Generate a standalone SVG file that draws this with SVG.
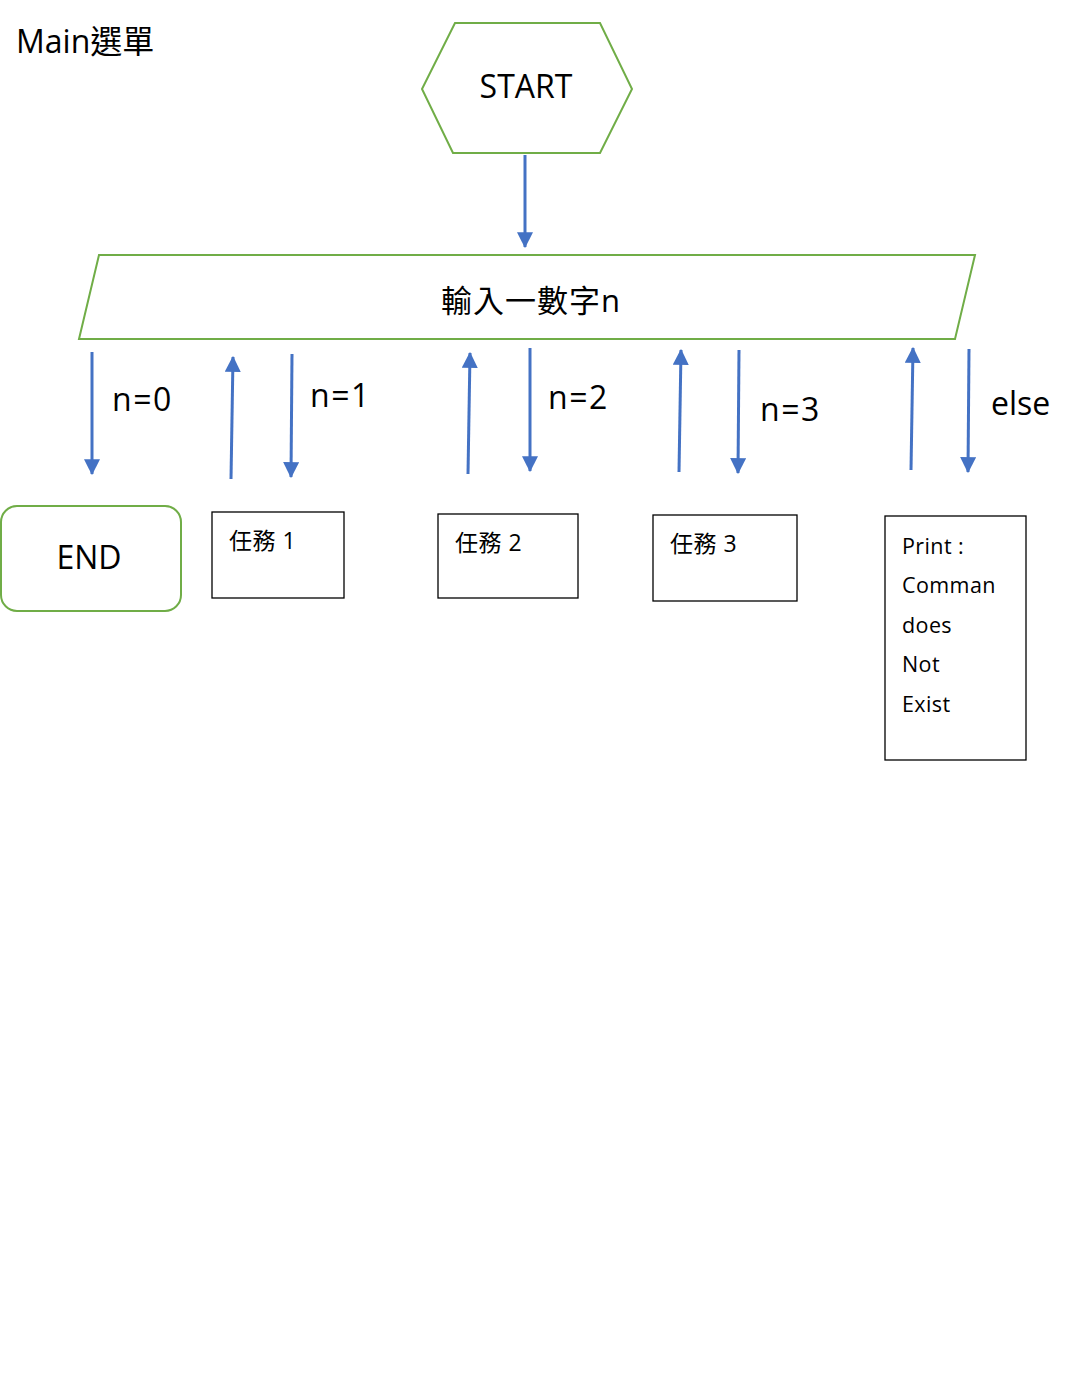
<svg xmlns="http://www.w3.org/2000/svg" width="1074" height="1392" viewBox="0 0 1074 1392">
<style>
text{font-family:"Open Sans","Noto Sans CJK TC",sans-serif;fill:#000}
.g{fill:#fff;stroke:#70AD47;stroke-width:2}
.b{fill:#fff;stroke:#000;stroke-width:1.3}
.c{stroke:#4472C4;stroke-width:3;fill:none;marker-end:url(#ah)}
.lg{font-size:32px}
.lb{font-size:32px;letter-spacing:1.5px}
.md{font-size:23px;letter-spacing:0.5px}
.sm{font-size:21.5px;letter-spacing:0.4px}
</style>
<defs>
<marker id="ah" markerUnits="userSpaceOnUse" markerWidth="16" markerHeight="16" refX="13" refY="7" orient="auto" viewBox="0 0 14 14">
<path d="M0,0 L14,7 L0,14 Z" fill="#4472C4"/>
</marker>
</defs>
<rect width="1074" height="1392" fill="#fff"/>
<text class="lg" x="16" y="53">Main選單</text>
<g id="start">
<polygon class="g" points="455,23 600,23 632,89 600,153 453,153 422,89"/>
<text class="lg" x="526" y="98" text-anchor="middle">START</text>
</g>
<g id="input">
<polygon class="g" points="99,255 975,255 955,339 79,339"/>
<text x="531" y="312" font-size="31" letter-spacing="1" text-anchor="middle">輸入一數字n</text>
</g>
<g id="end">
<rect class="g" x="1" y="506" width="180" height="105" rx="16"/>
<text class="lg" x="89" y="569" text-anchor="middle">END</text>
</g>
<g id="task1">
<rect class="b" x="212" y="512" width="132" height="86"/>
<text class="md" x="229" y="549">任務 1</text>
</g>
<g id="task2">
<rect class="b" x="438" y="514" width="140" height="84"/>
<text class="md" x="455" y="551">任務 2</text>
</g>
<g id="task3">
<rect class="b" x="653" y="515" width="144" height="86"/>
<text class="md" x="670" y="552">任務 3</text>
</g>
<g id="print">
<rect class="b" x="885" y="516" width="141" height="244"/>
<text class="sm" x="902" y="554">Print :</text>
<text class="sm" x="902" y="593">Comman</text>
<text class="sm" x="902" y="633">does</text>
<text class="sm" x="902" y="672">Not</text>
<text class="sm" x="902" y="712">Exist</text>
</g>
<g id="connectors">
<line class="c" x1="525" y1="155" x2="525" y2="247"/>
<line class="c" x1="92" y1="352" x2="92" y2="474"/>
<line class="c" x1="231" y1="479" x2="233" y2="357"/>
<line class="c" x1="292" y1="354" x2="291" y2="477"/>
<line class="c" x1="468" y1="474" x2="470" y2="353"/>
<line class="c" x1="530" y1="348" x2="530" y2="471"/>
<line class="c" x1="679" y1="472" x2="681" y2="350"/>
<line class="c" x1="739" y1="350" x2="738" y2="473"/>
<line class="c" x1="911" y1="470" x2="913" y2="348"/>
<line class="c" x1="969" y1="349" x2="968" y2="472"/>
<text class="lb" x="112" y="411">n=0</text>
<text class="lb" x="310" y="407">n=1</text>
<text class="lb" x="548" y="409">n=2</text>
<text class="lb" x="760" y="421">n=3</text>
<text class="lg" x="991" y="415">else</text>
</g>
</svg>
